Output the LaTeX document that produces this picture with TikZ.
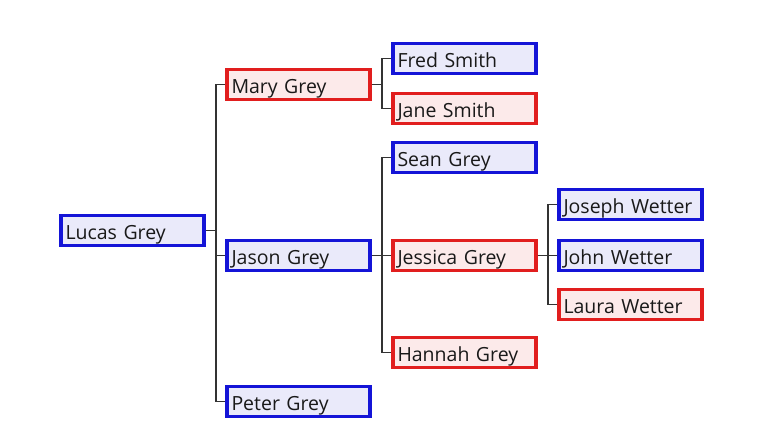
\documentclass[tikz,border=0pt]{standalone}
\usepackage{fontspec}
\setmainfont{Open Sans}
\definecolor{mblue}{RGB}{20,20,215}
\definecolor{fred}{RGB}{225,30,30}
\definecolor{mfill}{RGB}{234,234,250}
\definecolor{ffill}{RGB}{252,234,234}
\begin{document}
\begin{tikzpicture}[x=1pt,y=-1pt,
  person/.style={draw, line width=3.2pt, minimum height=30.5pt, inner xsep=4.5pt, inner ysep=0pt, text width=134pt, text height=19pt, text depth=2pt, align=left, font=\fontsize{19.5}{21}\selectfont, text=black!90},
  male/.style={person, draw=mblue, fill=mfill},
  female/.style={person, draw=fred, fill=ffill},
  link/.style={draw=black!80, line width=1.9pt}]
\useasboundingbox[fill=white] (0,0) rectangle (768,432);
\node[male]   (lucas)   at (132.5,230.5) {Lucas Grey};
\node[female] (mary)    at (298.5,84.5)  {Mary Grey};
\node[male]   (jason)   at (298.5,255.5) {Jason Grey};
\node[male]   (peter)   at (298.5,401.5) {Peter Grey};
\node[male]   (fredn)   at (464.5,58.5)  {Fred Smith};
\node[female] (jane)    at (464.5,108.5) {Jane Smith};
\node[male]   (sean)    at (464.5,157.5) {Sean Grey};
\node[female] (jessica) at (464.5,255.5) {Jessica Grey};
\node[female] (hannah)  at (464.5,352.5) {Hannah Grey};
\node[male]   (joseph)  at (630.5,204.5) {Joseph Wetter};
\node[male]   (john)    at (630.5,255.5) {John Wetter};
\node[female] (laura)   at (630.5,304.5) {Laura Wetter};
% Lucas
\coordinate (b1) at (216,230.5);
\draw[link] (lucas.east) -- (b1);
\draw[link] (b1) |- (mary.west);
\draw[link] (b1) |- (jason.west);
\draw[link] (b1) |- (peter.west);
% Mary
\coordinate (b2) at (382,84.5);
\draw[link] (mary.east) -- (b2);
\draw[link] (b2) |- (fredn.west);
\draw[link] (b2) |- (jane.west);
% Jason
\coordinate (b3) at (382,255.5);
\draw[link] (jason.east) -- (b3);
\draw[link] (b3) |- (sean.west);
\draw[link] (b3) |- (jessica.west);
\draw[link] (b3) |- (hannah.west);
% Jessica
\coordinate (b4) at (548,255.5);
\draw[link] (jessica.east) -- (b4);
\draw[link] (b4) |- (joseph.west);
\draw[link] (b4) |- (john.west);
\draw[link] (b4) |- (laura.west);
\end{tikzpicture}
\end{document}
